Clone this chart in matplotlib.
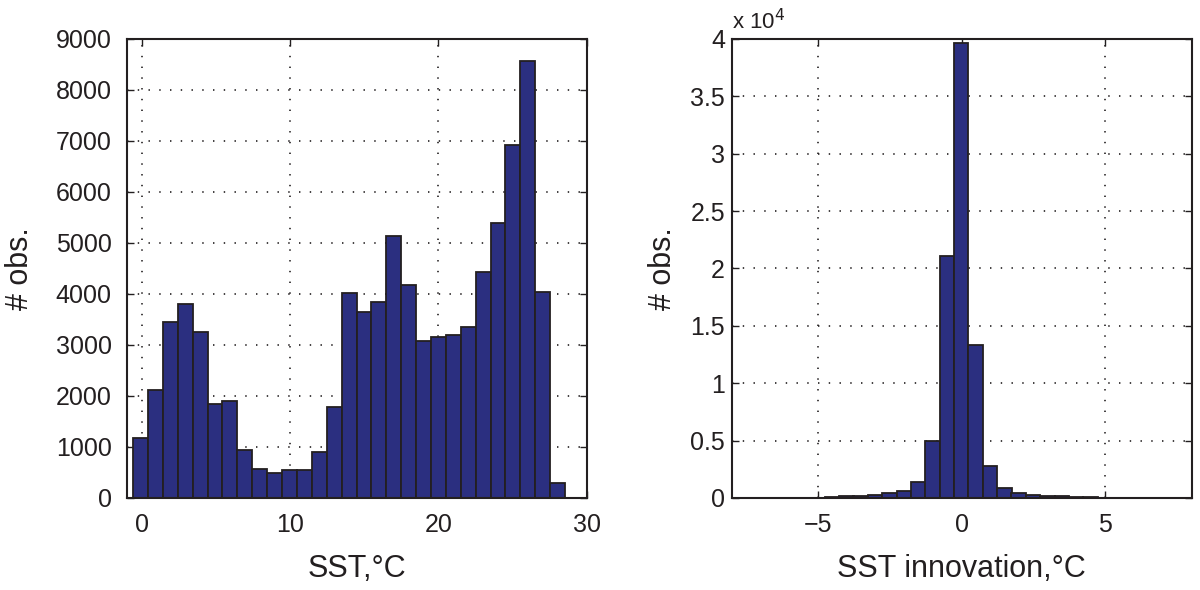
import numpy as np
import matplotlib
matplotlib.use('Agg')
from matplotlib import pyplot as plt
from matplotlib.ticker import FuncFormatter

# left panel: SST histogram (1 degC bins)
sst_centers = np.linspace(-0.09, 28.05, 29)
sst_counts = [1180, 2110, 3450, 3800, 3250, 1850, 1910, 940, 570, 490, 540, 545,
              910, 1780, 4020, 3650, 3840, 5140, 4170, 3070, 3150, 3200, 3360,
              4440, 5400, 6920, 8570, 4030, 300]

# right panel: SST innovation histogram (0.5 degC bins)
inn_centers = np.linspace(-7.52, 7.48, 31)
inn_counts = [3, 5, 8, 12, 20, 40, 80, 130, 200, 290, 400, 570, 1360, 4960,
              21100, 39650, 13350, 2750, 910, 440, 260, 180, 130, 80, 50, 30,
              20, 12, 8, 5, 3]

bar_col = '#2b2f80'
ink = '#231f20'

plt.rcParams['font.family'] = ['Liberation Sans', 'DejaVu Sans']
plt.rcParams['text.color'] = ink
plt.rcParams['axes.labelcolor'] = ink
plt.rcParams['xtick.color'] = ink
plt.rcParams['ytick.color'] = ink

fig = plt.figure(figsize=(12, 5.9), dpi=100)
ax1 = fig.add_axes([0.1058, 0.156, 0.383, 0.778])
ax2 = fig.add_axes([0.61, 0.156, 0.383, 0.778])

def style(ax, ypad):
    ax.set_axisbelow(True)
    ax.grid(True, color=ink, linestyle=(0, (0.85, 5.6)), linewidth=1.2)
    ax.tick_params(direction='in', length=5, width=1.0, labelsize=18, pad=11,
                   top=True, right=True)
    ax.tick_params(axis='y', pad=ypad)
    for s in ax.spines.values():
        s.set_linewidth(1.5)
        s.set_color(ink)

ax1.bar(sst_centers, sst_counts, width=1.005, color=bar_col, edgecolor=ink, linewidth=1.3)
ax1.set_xlim(-1, 30)
ax1.set_ylim(0, 9000)
ax1.set_xticks([0, 10, 20, 30])
ax1.set_yticks(np.arange(0, 9001, 1000))
ax1.set_xlabel('SST,°C', fontsize=22, labelpad=12)
ax1.set_ylabel('# obs.', fontsize=22, labelpad=15)
style(ax1, 11)

ax2.bar(inn_centers, inn_counts, width=0.505, color=bar_col, edgecolor=ink, linewidth=1.3)
ax2.set_xlim(-8, 8)
ax2.set_ylim(0, 40000)
ax2.set_xticks([-5, 0, 5])
ax2.set_yticks(np.arange(0, 40001, 5000))
ax2.yaxis.set_major_formatter(FuncFormatter(lambda v, p: '%g' % (v / 1e4)))
ax2.set_xlabel('SST innovation,°C', fontsize=22, labelpad=12)
ax2.set_ylabel('# obs.', fontsize=22, labelpad=9)
ax2.text(0.0, 1.01, 'x 10$^4$', transform=ax2.transAxes, fontsize=16,
         ha='left', va='bottom')
style(ax2, 5)

fig.savefig('out.png', dpi=100)
